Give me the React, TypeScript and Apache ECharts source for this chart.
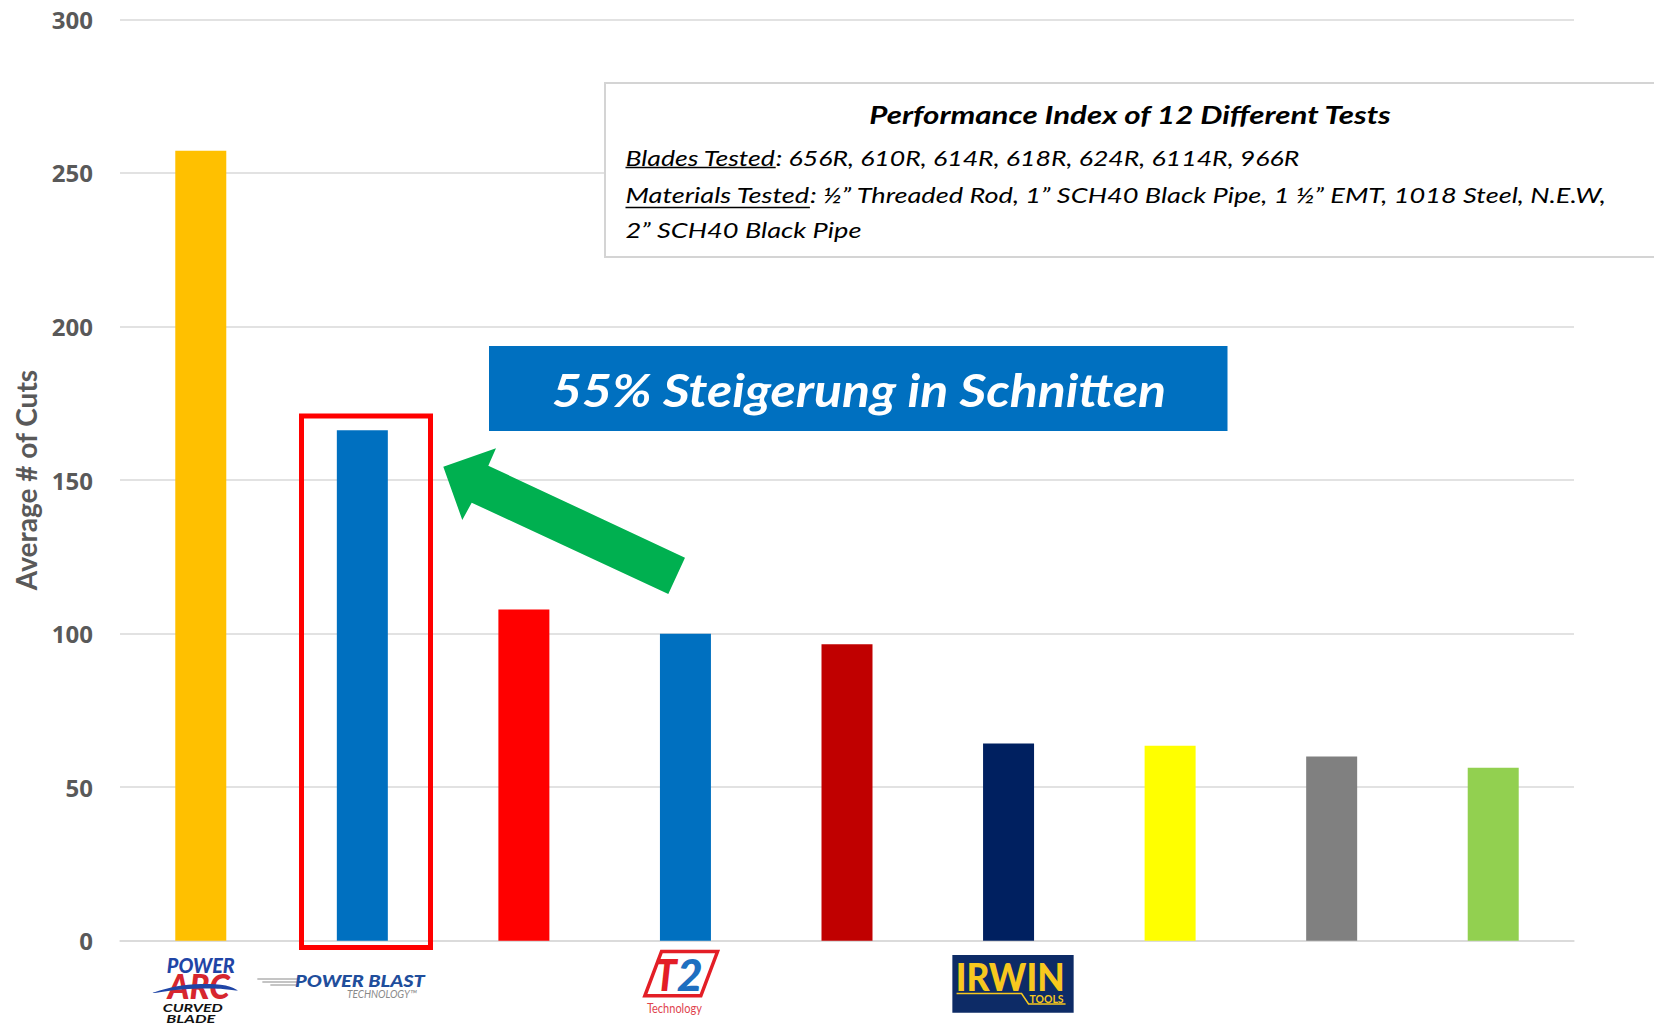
import React, { useEffect, useRef } from "react";
import * as echarts from "echarts";

const categories = ["Power Arc", "Power Blast", "Blade C", "T2", "Blade E", "Irwin", "Blade G", "Blade H", "Blade I"];
const cutValues = [257.2, 166.2, 107.8, 99.9, 96.5, 64.2, 63.5, 60.0, 56.3];
const barColors = ["#FFC000", "#0070C0", "#FF0000", "#0070C0", "#C00000", "#002060", "#FFFF00", "#808080", "#92D050"];
const yMin = 0;
const yMax = 300;
const yStep = 50;
const yAxisName = "Average # of Cuts";
const boxTitle = "Performance Index of 12 Different Tests";
const bladesLabel = "Blades Tested";
const bladesRest = ": 656R, 610R, 614R, 618R, 624R, 6114R, 966R";
const materialsLabel = "Materials Tested";
const materialsRest = ": ½” Threaded Rod, 1” SCH40 Black Pipe, 1 ½” EMT, 1018 Steel, N.E.W,";
const materialsLine2 = "2” SCH40 Black Pipe";
const bannerText = "55% Steigerung in Schnitten";

const measureCtx = (typeof document !== "undefined" ? document.createElement("canvas").getContext("2d") : null) as CanvasRenderingContext2D | null;
function measure(text: string, style: string, weight: string | number, size: number, family: string) {
  if (!measureCtx) return text.length * size * 0.5;
  measureCtx.font = `${style} ${weight} ${size}px ${family}`;
  return measureCtx.measureText(text).width;
}

function fitText(
  text: string, x: number, y: number, size: number, weight: string | number, style: string,
  targetWidth: number, align: string, fill: string, family = "Lato", z = 120
) {
  const w = measure(text, style, weight, size, family);
  const s = targetWidth / w;
  return {
    type: "text", x, y, scaleX: s, z,
    style: {
      text, x: 0, y: 0, fill, fontFamily: family, fontSize: size, fontWeight: weight, fontStyle: style,
      align, textAlign: align, verticalAlign: "middle", textVerticalAlign: "middle",
    },
  };
}

export default function App() {
  const ref = useRef<HTMLDivElement>(null);
  useEffect(() => {
    if (!ref.current) return;
    const chart = echarts.init(ref.current, null, { renderer: "svg" });
    const base: any = {
      animation: false,
      backgroundColor: "#FFFFFF",
      grid: { left: 120, right: 80, top: 19.3, bottom: 85.3, containLabel: false },
      xAxis: {
        type: "category",
        data: categories,
        axisLine: { show: true, lineStyle: { color: "#D9D9D9", width: 1.5 } },
        axisTick: { show: false },
        axisLabel: { show: false },
      },
      yAxis: {
        type: "value",
        min: yMin, max: yMax, interval: yStep,
        name: yAxisName,
        nameLocation: "middle",
        nameRotate: 90,
        nameGap: 80,
        nameTextStyle: { fontFamily: "Lato", fontSize: 28, fontWeight: "bold", color: "#595959" },
        axisLine: { show: false },
        axisTick: { show: false },
        axisLabel: { fontFamily: "Open Sans", fontWeight: "bold", fontSize: 24, color: "#595959", margin: 27 },
        splitLine: { lineStyle: { color: "#D9D9D9", width: 1.5 } },
      },
      series: [
        {
          type: "bar",
          barWidth: 51,
          data: cutValues.map((v, i) => ({ value: v, itemStyle: { color: barColors[i] } })),
        },
      ],
    };
    chart.setOption(base);

    const cx = categories.map((_, i) => chart.convertToPixel({ xAxisIndex: 0 }, i) as number);

    const bodySize = 22;
    const bFull = measure(bladesLabel + bladesRest, "italic", "normal", bodySize, "Lato");
    const bs = 674 / bFull;
    const bLabW = measure(bladesLabel, "italic", "normal", bodySize, "Lato") * bs;
    const mFull = measure(materialsLabel + materialsRest, "italic", "normal", bodySize, "Lato");
    const ms = 981 / mFull;
    const mLabW = measure(materialsLabel, "italic", "normal", bodySize, "Lato") * ms;
    const m2W = measure(materialsLine2, "italic", "normal", bodySize, "Lato") * ms;
    const tx = 625.5;

    const graphic: any[] = [
      { type: "rect", z: 100, shape: { x: 605, y: 83, width: 1200, height: 174 }, style: { fill: "#FFFFFF", stroke: "#D4D4D4", lineWidth: 2 } },
      fitText(boxTitle, 1130, 115, 24, "bold", "italic", 523, "center", "#000000"),
      fitText(bladesLabel, tx, 157.5, bodySize, "normal", "italic", bLabW, "left", "#000000"),
      fitText(bladesRest, tx + bLabW, 157.5, bodySize, "normal", "italic", 674 - bLabW, "left", "#000000"),
      { type: "line", z: 120, shape: { x1: tx, y1: 167.5, x2: tx + bLabW, y2: 167.5 }, style: { stroke: "#000000", lineWidth: 1.6 } },
      fitText(materialsLabel, tx, 195, bodySize, "normal", "italic", mLabW, "left", "#000000"),
      fitText(materialsRest, tx + mLabW, 195, bodySize, "normal", "italic", 981 - mLabW, "left", "#000000"),
      { type: "line", z: 120, shape: { x1: tx, y1: 207.5, x2: tx + mLabW, y2: 207.5 }, style: { stroke: "#000000", lineWidth: 1.6 } },
      fitText(materialsLine2, tx, 230, bodySize, "normal", "italic", m2W, "left", "#000000"),

      { type: "rect", z: 100, shape: { x: 489, y: 346, width: 738.5, height: 85 }, style: { fill: "#0070C0" } },
      fitText(bannerText, 859, 389, 46, "bold", "italic", 614, "center", "#FFFFFF"),

      { type: "rect", z: 100, shape: { x: 301.5, y: 416, width: 129, height: 531.5 }, style: { fill: "transparent", stroke: "#FF0000", lineWidth: 5 } },

      {
        type: "polygon", z: 100,
        shape: { points: [[443.3, 466.7], [496, 448.3], [488.3, 465.7], [685, 557.7], [668.3, 594], [471.7, 502.7], [462.3, 520]] },
        style: { fill: "#00B050" },
      },

      {
        type: "group", x: cx[0], y: 0, children: [
          fitText("POWER", 0, 964.5, 21, 900, "italic", 68, "center", "#1F45A6"),
          fitText("ARC", -2, 985.5, 34, 900, "italic", 62, "center", "#D7262E"),
          {
            type: "polygon", z: 121,
            shape: { points: [[-48, 993], [-25, 986.5], [0, 984], [25, 985.5], [37, 990.5], [20, 988.8], [0, 988.5], [-25, 990]], smooth: 0.3 },
            style: { fill: "#1F45A6" },
          },
          fitText("CURVED", -8, 1007.5, 11, "bold", "italic", 60, "center", "#111111"),
          fitText("BLADE", -10, 1018.5, 11, "bold", "italic", 49, "center", "#111111"),
        ],
      },
      {
        type: "group", x: cx[1], y: 0, children: [
          { type: "line", z: 120, shape: { x1: -105, y1: 979, x2: -64, y2: 979 }, style: { stroke: "#8A8A8A", lineWidth: 1 } },
          { type: "line", z: 120, shape: { x1: -100, y1: 982, x2: -64, y2: 982 }, style: { stroke: "#8A8A8A", lineWidth: 1.2 } },
          { type: "line", z: 120, shape: { x1: -92, y1: 985, x2: -66, y2: 985 }, style: { stroke: "#8A8A8A", lineWidth: 1 } },
          fitText("POWER BLAST", -2.4, 981, 17, 900, "italic", 130, "center", "#1F4E9C"),
          fitText("TECHNOLOGY™", 19.6, 994, 11, "normal", "italic", 70, "center", "#8A8A8A"),
        ],
      },
      {
        type: "group", x: cx[3], y: 0, children: [
          {
            type: "polygon", z: 120,
            shape: { points: [[-23.9, 951.5], [32.1, 951.5], [15.4, 995.8], [-40.6, 995.8]] },
            style: { fill: "#FFFFFF", stroke: "#E31E26", lineWidth: 3.5 },
          },
          fitText("T", -19.6, 974, 44, 900, "italic", 22, "center", "#E31E26", "Lato", 121),
          fitText("2", 4.3, 974, 44, 900, "italic", 26, "center", "#1E6FC0", "Lato", 121),
          fitText("Technology", -11.1, 1008, 13, "normal", "normal", 55, "center", "#E0444E"),
        ],
      },
      {
        type: "group", x: cx[5], y: 0, children: [
          { type: "rect", z: 120, shape: { x: -56.2, y: 955, width: 121.3, height: 57.7 }, style: { fill: "#0D2B66" } },
          fitText("IRWIN", 1.6, 977, 38, 900, "normal", 109, "center", "#F7C81E", "Lato", 121),
          fitText("TOOLS", 38, 998.5, 11, "bold", "normal", 34, "center", "#F7C81E", "Lato", 121),
          {
            type: "polyline", z: 121,
            shape: { points: [[-52, 993.5], [13, 993.5], [20, 1004], [57, 1004]] },
            style: { stroke: "#F7C81E", lineWidth: 1.5, fill: "none" },
          },
        ],
      },
    ];

    chart.setOption({ graphic });
    return () => chart.dispose();
  }, []);
  return <div ref={ref} style={{ position: "fixed", left: 0, top: 0, width: 1654, height: 1026 }} />;
}
